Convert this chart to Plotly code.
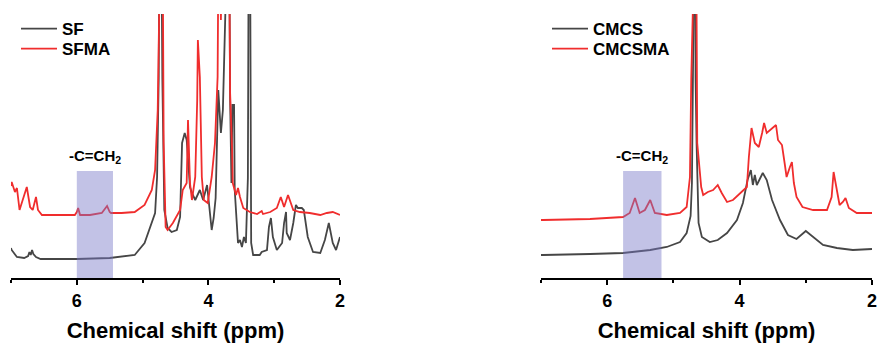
import plotly.graph_objects as go

# ---------------- data (ppm, intensity in arbitrary units) ----------------
sf_ppm = [7.00, 6.99, 6.91, 6.80, 6.74, 6.72, 6.70, 6.68, 6.66, 6.62, 6.55, 6.0, 5.5, 5.12, 4.97, 4.86, 4.81,
          4.78, 4.755, 4.74, 4.72, 4.70, 4.67, 4.62, 4.56, 4.48, 4.43, 4.40, 4.36, 4.33, 4.28, 4.25, 4.20,
          4.13, 4.08, 4.02, 3.98, 3.95, 3.92, 3.89, 3.85, 3.81, 3.78, 3.75, 3.72, 3.69, 3.67, 3.65, 3.635,
          3.61, 3.60, 3.57, 3.55, 3.52, 3.49, 3.46, 3.43, 3.40, 3.385, 3.37, 3.36, 3.35, 3.32, 3.22, 3.19,
          3.11, 3.08, 3.05, 3.02, 2.96, 2.88, 2.85, 2.82, 2.81, 2.76, 2.71, 2.67, 2.64, 2.58, 2.55, 2.49,
          2.41, 2.30, 2.23, 2.17, 2.11, 2.06, 2.00]
sf_int = [30, 28, 21, 20, 22, 26, 23, 28, 24, 21, 19, 19, 20, 23, 35, 55, 65,
          101, 200, 400, 400, 200, 68, 50, 46, 48, 61, 135, 145, 138, 91, 85, 78,
          88, 78, 93, 68, 48, 60, 80, 188, 145, 168, 400, 400, 400, 180, 95, 173,
          173, 88, 60, 35, 38, 31, 41, 35, 100, 400, 400, 100, 35, 23, 23, 26,
          28, 51, 60, 41, 28, 35, 55, 66, 45, 38, 55, 73, 70, 70, 68, 41,
          26, 25, 38, 55, 35, 28, 41]

sfma_ppm = [7.00, 6.99, 6.94, 6.91, 6.87, 6.82, 6.76, 6.71, 6.67, 6.62, 6.59, 6.53, 6.26, 6.03, 6.00, 5.98,
            5.95, 5.80, 5.62, 5.57, 5.54, 5.50, 5.48, 5.32, 5.12, 4.97, 4.89, 4.86, 4.81, 4.77, 4.74, 4.72,
            4.70, 4.68, 4.65, 4.62, 4.54, 4.43, 4.39, 4.33, 4.31, 4.28, 4.25, 4.20, 4.17, 4.16, 4.13, 4.10,
            4.07, 4.01, 3.95, 3.90, 3.86, 3.84, 3.81, 3.78, 3.69, 3.67, 3.64, 3.63, 3.58, 3.55, 3.52, 3.47,
            3.37, 3.26, 3.19, 3.17, 3.06, 2.96, 2.90, 2.85, 2.79, 2.71, 2.61, 2.46, 2.30, 2.20, 2.11, 2.00]
sfma_int = [92, 96, 86, 90, 68, 78, 91, 71, 68, 81, 68, 63, 63, 63, 66, 70,
            63, 63, 65, 70, 72, 66, 65, 65, 66, 73, 85, 88, 108, 168, 300, 400,
            400, 135, 51, 48, 55, 68, 88, 95, 158, 95, 78, 101, 178, 238, 201, 101,
            78, 75, 101, 135, 201, 400, 258, 400, 400, 185, 128, 95, 83, 90, 81, 70,
            66, 64, 67, 64, 66, 70, 81, 71, 83, 68, 66, 65, 63, 65, 66, 63]

cmcs_ppm = [7.00, 6.97, 6.26, 5.76, 5.35, 5.10, 4.90, 4.80, 4.74, 4.72, 4.705, 4.69, 4.675, 4.665, 4.65,
            4.62, 4.57, 4.45, 4.33, 4.19, 4.04, 3.95, 3.88, 3.83, 3.80, 3.77, 3.74, 3.65, 3.59, 3.51,
            3.39, 3.27, 3.14, 3.00, 2.89, 2.74, 2.53, 2.29, 2.00]
cmcs_int = [23, 23, 24, 25, 28, 31, 36, 45, 62, 95, 200, 400, 400, 200, 135,
            55, 41, 36, 38, 45, 58, 75, 98, 108, 93, 103, 93, 105, 98, 78,
            58, 43, 39, 47, 41, 33, 30, 28, 29]

cmcsma_ppm = [7.00, 6.97, 6.26, 6.00, 5.76, 5.66, 5.58, 5.51, 5.43, 5.35, 5.28, 5.10, 4.90, 4.80, 4.75,
              4.73, 4.72, 4.66, 4.64, 4.58, 4.55, 4.48, 4.40, 4.33, 4.27, 4.19, 4.10, 3.97, 3.89, 3.86,
              3.82, 3.77, 3.71, 3.66, 3.63, 3.59, 3.54, 3.50, 3.45, 3.42, 3.36, 3.32, 3.29, 3.24, 3.21,
              3.18, 3.14, 3.05, 2.89, 2.68, 2.61, 2.58, 2.53, 2.49, 2.44, 2.40, 2.35, 2.23, 2.00]
cmcsma_int = [58, 58, 59, 60, 61, 65, 80, 65, 68, 78, 65, 63, 65, 71, 101,
              200, 400, 400, 135, 91, 83, 86, 88, 93, 85, 76, 78, 86, 91, 121,
              150, 135, 131, 145, 155, 145, 148, 150, 153, 138, 133, 115, 101, 111, 116,
              95, 81, 71, 68, 68, 81, 106, 85, 73, 76, 80, 70, 65, 65]

left_names = ["SF", "SFMA"]
right_names = ["CMCS", "CMCSMA"]
vinyl_left = [6.0, 5.45]
vinyl_right = [5.76, 5.18]
vinyl_label = "-C=CH<sub>2</sub>"
x_title = "Chemical shift (ppm)"

# ---------------- styling ----------------
BLACK = "rgb(70,70,70)"
RED = "rgb(240,45,45)"
FONT = "Arial, Liberation Sans, sans-serif"
W, H = 879, 343

fig = go.Figure()
fig.add_trace(go.Scatter(x=sf_ppm, y=sf_int, mode="lines", name=left_names[0],
                         line=dict(color=BLACK, width=1.8), xaxis="x", yaxis="y", legend="legend"))
fig.add_trace(go.Scatter(x=sfma_ppm, y=sfma_int, mode="lines", name=left_names[1],
                         line=dict(color=RED, width=1.8), xaxis="x", yaxis="y", legend="legend2"))
fig.add_trace(go.Scatter(x=cmcs_ppm, y=cmcs_int, mode="lines", name=right_names[0],
                         line=dict(color=BLACK, width=1.8), xaxis="x2", yaxis="y2", legend="legend3"))
fig.add_trace(go.Scatter(x=cmcsma_ppm, y=cmcsma_int, mode="lines", name=right_names[1],
                         line=dict(color=RED, width=1.8), xaxis="x2", yaxis="y2", legend="legend4"))

ytop = 1 - 14 / H
ybot = 1 - 278 / H

def xaxis(domain, anchor):
    return dict(domain=domain, anchor=anchor, range=[7, 2], showgrid=False, zeroline=False,
                showline=True, linecolor="black", linewidth=2,
                tickmode="linear", tick0=2, dtick=2, ticks="outside", ticklen=5, tickwidth=2,
                tickcolor="black",
                minor=dict(tickmode="linear", tick0=1, dtick=1, ticks="outside", ticklen=3,
                           tickwidth=1.5, tickcolor="black"),
                tickfont=dict(family=FONT, size=18, color="black", weight="bold"),
                title=dict(text="<b>" + x_title + "</b>", font=dict(family=FONT, size=22, color="black"),
                           standoff=13))

def yaxis(anchor):
    return dict(domain=[ybot, ytop], anchor=anchor, range=[0, 264], visible=False)

def legend_at(px, py):
    return dict(x=px / W, y=1 - py / H, xanchor="left", yanchor="middle",
                font=dict(family=FONT, size=17, color="black", weight="bold"),
                bgcolor="rgba(0,0,0,0)", borderwidth=0, itemwidth=36)

fig.update_layout(
    width=W, height=H, margin=dict(l=0, r=0, t=0, b=0, autoexpand=False),
    paper_bgcolor="white", plot_bgcolor="white",
    xaxis=xaxis([11 / W, 340 / W], "y"),
    yaxis=yaxis("x"),
    xaxis2=xaxis([541 / W, 872 / W], "y2"),
    yaxis2=yaxis("x2"),
    legend=legend_at(16, 29),
    legend2=legend_at(16, 49),
    legend3=legend_at(547, 29),
    legend4=legend_at(547, 49),
    showlegend=True,
)

for (xr, yr, rng) in [("x", "y", vinyl_left), ("x2", "y2", vinyl_right)]:
    fig.add_shape(type="rect", xref=xr, yref=yr, x0=rng[0], x1=rng[1], y0=0, y1=107,
                  fillcolor="rgb(120,120,200)", opacity=0.45, line=dict(width=0), layer="above")
    fig.add_annotation(xref=xr, yref=yr, x=(rng[0] + rng[1]) / 2, y=122,
                       text="<b>" + vinyl_label + "</b>", showarrow=False,
                       font=dict(family=FONT, size=15, color="black"))

fig.write_html("out.html", config={"displayModeBar": False},
               post_script="document.body.style.margin='0';")
